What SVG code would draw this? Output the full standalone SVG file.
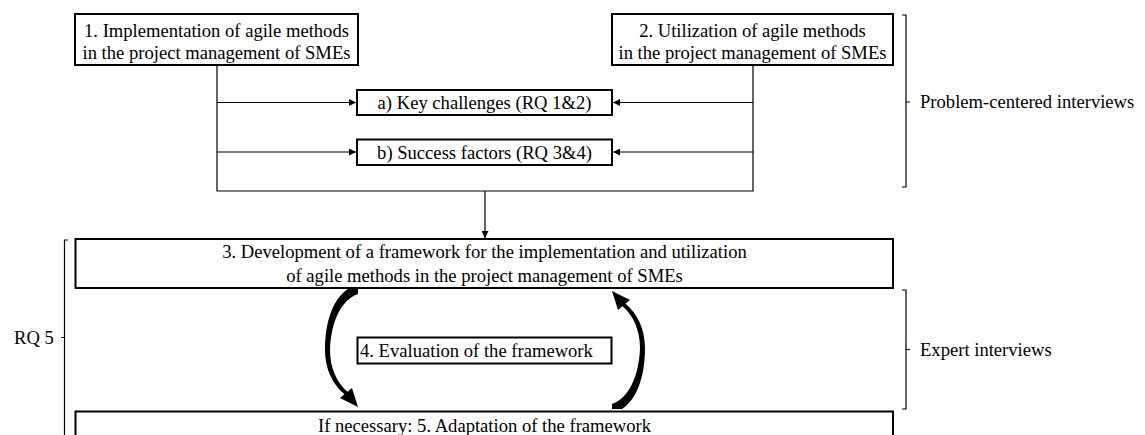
<svg xmlns="http://www.w3.org/2000/svg" width="1145" height="435" viewBox="0 0 1145 435">
  <style>
    text { font-family: "Liberation Serif", "Times New Roman", serif; font-size: 18.6px; fill: #000; }
    .c { text-anchor: middle; }
    .box { fill: #fff; stroke: #000; stroke-width: 2; }
    .line { fill: none; stroke: #000; stroke-width: 1.2; }
    .br { fill: none; stroke: #000; stroke-width: 1.2; }
    .curve { fill: #000; stroke: none; }
  </style>
  <defs>
    <marker id="ah" viewBox="0 0 10 10" refX="10" refY="5" markerWidth="8" markerHeight="7" markerUnits="userSpaceOnUse" orient="auto">
      <path d="M0,0 L10,5 L0,10 Z" fill="#000"/>
    </marker>
  </defs>
  <rect width="1145" height="435" fill="#fff"/>

  <g id="connectors">
    <polyline class="line" points="217,65 217,191 753,191 753,65"/>
    <line class="line" x1="217" y1="102.5" x2="356" y2="102.5" marker-end="url(#ah)"/>
    <line class="line" x1="217" y1="152" x2="356" y2="152" marker-end="url(#ah)"/>
    <line class="line" x1="753" y1="102.5" x2="613" y2="102.5" marker-end="url(#ah)"/>
    <line class="line" x1="753" y1="152" x2="613" y2="152" marker-end="url(#ah)"/>
    <line class="line" x1="485" y1="191" x2="485" y2="238" marker-end="url(#ah)"/>
    <path id="curve-left" class="curve" d="M348,289 L358,289 L358,294 C341,300 331,322 330,350 C330,368 337,383 347.5,391.7 L352,388 L358,407 L340,398 L344.5,394.3 C332,384 325,368 325,350 C325,320 334,298 348,289 Z"/>
    <path id="curve-right" class="curve" transform="rotate(180 485 349)" d="M348,289 L358,289 L358,294 C341,300 331,322 330,350 C330,368 337,383 347.5,391.7 L352,388 L358,407 L340,398 L344.5,394.3 C332,384 325,368 325,350 C325,320 334,298 348,289 Z"/>
  </g>

  <g id="node-1">
    <rect class="box" x="75" y="14" width="283" height="51"/>
    <text class="c" x="216.5" y="37">1. Implementation of agile methods</text>
    <text class="c" x="216.5" y="59">in the project management of SMEs</text>
  </g>
  <g id="node-2">
    <rect class="box" x="612" y="14" width="281" height="51"/>
    <text class="c" x="752.5" y="37">2. Utilization of agile methods</text>
    <text class="c" x="752.5" y="59">in the project management of SMEs</text>
  </g>
  <g id="node-a">
    <rect class="box" x="357" y="90" width="255" height="25"/>
    <text class="c" x="484.5" y="108.5">a) Key challenges (RQ 1&amp;2)</text>
  </g>
  <g id="node-b">
    <rect class="box" x="357" y="139.5" width="255" height="25.5"/>
    <text class="c" x="484.5" y="158.5">b) Success factors (RQ 3&amp;4)</text>
  </g>
  <g id="node-3">
    <rect class="box" x="75.5" y="239" width="817.5" height="49"/>
    <text class="c" x="484.5" y="257.5">3. Development of a framework for the implementation and utilization</text>
    <text class="c" x="484.5" y="281.5">of agile methods in the project management of SMEs</text>
  </g>
  <g id="node-4">
    <rect class="box" x="357.5" y="337.5" width="254" height="26"/>
    <text x="360" y="356.5">4. Evaluation of the framework</text>
  </g>
  <g id="node-5">
    <rect class="box" x="75.5" y="411.5" width="817.5" height="40"/>
    <text class="c" x="484.5" y="431.5">If necessary: 5. Adaptation of the framework</text>
  </g>

  <g id="bracket-problem">
    <path class="br" d="M902,15 L906,15 L906,187 L902,187 M906,102 L910,102"/>
    <text x="920" y="108">Problem-centered interviews</text>
  </g>
  <g id="bracket-expert">
    <path class="br" d="M902,290 L906,290 L906,409 L902,409 M906,349.5 L910,349.5"/>
    <text x="920" y="355.5">Expert interviews</text>
  </g>
  <g id="bracket-rq5">
    <path class="br" d="M68,240 L64.5,240 L64.5,436 M64.5,337.5 L61,337.5"/>
    <text x="14" y="344">RQ 5</text>
  </g>
</svg>
